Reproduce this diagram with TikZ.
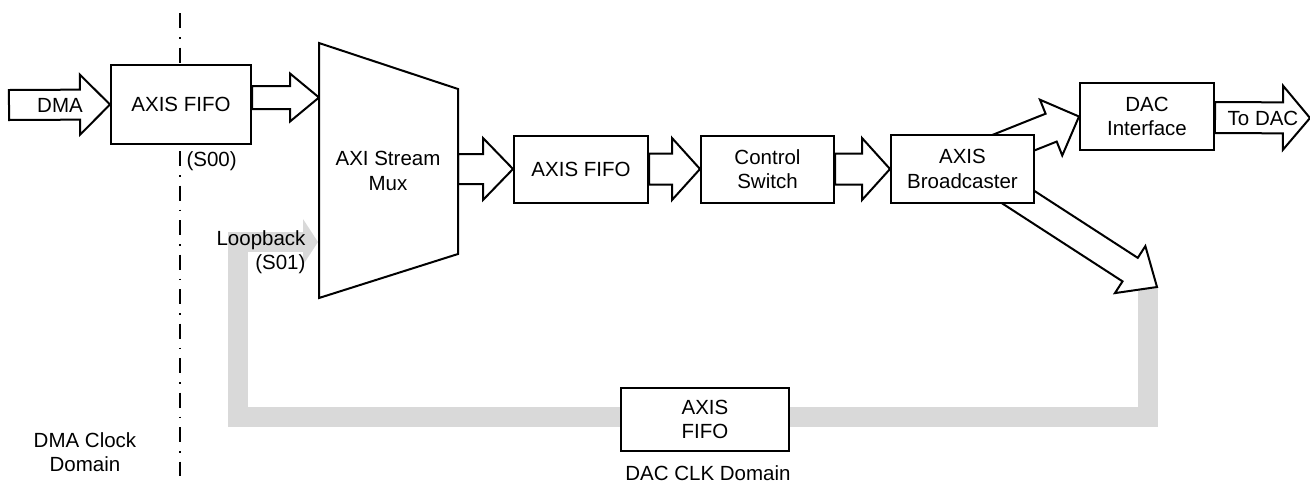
\documentclass[tikz,border=0pt]{standalone}
\usepackage{fontspec}
\setmainfont{Liberation Sans}
\usetikzlibrary{calc, backgrounds}
\definecolor{loopgray}{RGB}{217,217,217}
\tikzset{every node/.style={font=\fontsize{20.5}{24.5}\selectfont}, % Text size of all labels
block/.style={ % Sets the properties for each box
draw, line width=2pt,
fill=white, align=center, inner sep=0pt},
fatarrow/.style={draw, line width=2pt, fill=white, line join=miter}, % Hollow block arrows
loop path/.style={draw=loopgray, line width=20pt}, % Grey loopback band
domain line/.style={line width=1.5pt, dash pattern=on 15pt off 9pt on 1.5pt off 9pt}}

% hollow block arrow: [options]{start}{tip}{body half width}{head half width}{head length}
\newcommand{\fatarrow}[6][]{%
\coordinate (fa-s) at (#2);
\coordinate (fa-t) at (#3);
\coordinate (fa-h) at ($(fa-t)!#6!(fa-s)$);
\draw[fatarrow,#1] ($(fa-s)!#4!90:(fa-t)$) -- ($(fa-h)!#4!90:(fa-t)$) -- ($(fa-h)!#5!90:(fa-t)$) -- (fa-t)
-- ($(fa-h)!#5!-90:(fa-t)$) -- ($(fa-h)!#4!-90:(fa-t)$) -- ($(fa-s)!#4!-90:(fa-t)$) -- cycle;}

\begin{document}
\begin{tikzpicture}[x=1pt,y=-1pt]
    \useasboundingbox (0,0) rectangle (1310,483);

    \node[block, minimum width=140pt, minimum height=79pt] (fifoA) at (181,104.5) {AXIS FIFO};
    \draw[line width=2pt, fill=white] (319,43) -- (458,89) -- (458,254) -- (319,298) -- cycle;
    \node[align=center] (mux) at (388,171) {AXI Stream\\Mux};
    \node[block, minimum width=134pt, minimum height=67pt] (fifoB) at (581,169) {AXIS FIFO};
    \node[block, minimum width=133pt, minimum height=67pt] (ctrl) at (767.5,169) {Control\\Switch};
    \node[block, minimum width=143pt, minimum height=68pt] (bcast) at (962.5,169) {AXIS\\Broadcaster};
    \node[block, minimum width=134pt, minimum height=67pt] (dacif) at (1147,116.5) {DAC\\Interface};
    \node[block, minimum width=168pt, minimum height=63pt] (fifoC) at (705,419.5) {AXIS\\FIFO};

    \node (dma) at (60,105) {DMA};
    \node (todac) at (1263,118) {To DAC};
    \node[anchor=west] (sA) at (183,161) {(S00)};
    \node[anchor=east, align=right] (sB) at (309,252) {Loopback\\(S01)};
    \node[align=center] (dmadom) at (85,452) {DMA Clock\\Domain};
    \node (dacdom) at (708,473) {DAC CLK Domain};

    \coordinate (dmain) at (9,105);
    \coordinate (muxin) at (319,97.5);
    \coordinate (muxout) at (458,169);
    \coordinate (todacend) at (1310,118);
    \coordinate (split) at (1157,287);
    \coordinate (loopin) at (318,242);
    \coordinate (domtop) at (180,13);
    \coordinate (dombot) at (180,476);

    \begin{pgfonlayer}{background}
    \draw[loop path] ([xshift=-9pt]split) -- ++(0,129.5) -| (238,242) -- ([xshift=-15pt]loopin);
    \fill[loopgray] ([xshift=-15pt,yshift=23pt]loopin) -- (loopin) -- ([xshift=-15pt,yshift=-23pt]loopin) -- cycle;
    \draw[domain line] (domtop) -- (dombot);

    \fatarrow{dmain}{fifoA.west}{15pt}{30pt}{30pt}
    \fatarrow{[yshift=7pt]fifoA.east}{muxin}{11.5pt}{24pt}{29pt}
    \fatarrow{muxout}{fifoB.west}{15pt}{31pt}{30pt}
    \fatarrow{fifoB.east}{ctrl.west}{15.5pt}{31pt}{28pt}
    \fatarrow{ctrl.east}{bcast.west}{15.5pt}{31pt}{28pt}
    \fatarrow{[yshift=6pt]bcast.center}{dacif.west}{15pt}{30pt}{30pt}
    \fatarrow{[yshift=8pt]bcast.center}{split}{14pt}{28pt}{32pt}
    \fatarrow{[yshift=-1pt]dacif.east}{todacend}{15.5pt}{32pt}{27pt}
    \end{pgfonlayer}

\end{tikzpicture}
\end{document}
